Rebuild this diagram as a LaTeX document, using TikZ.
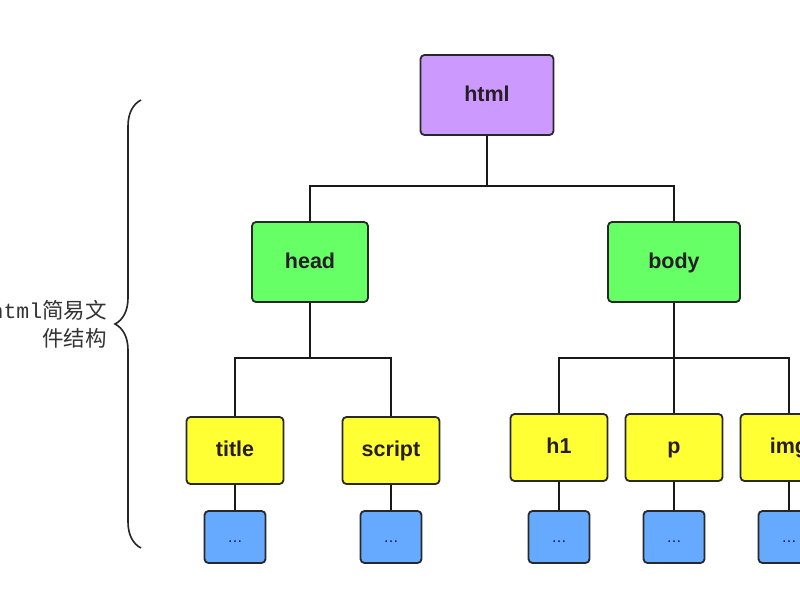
\documentclass[tikz,border=0pt]{standalone}
\usepackage{fontspec}
\setmainfont{Liberation Sans}
\newfontfamily\cjk{Noto Sans CJK SC}
\newfontfamily\monof{Liberation Mono}
\usetikzlibrary{decorations.pathreplacing}
\definecolor{cpurple}{RGB}{204,153,255}
\definecolor{cgreen}{RGB}{102,255,102}
\definecolor{cyellow}{RGB}{255,255,51}
\definecolor{cblue}{RGB}{102,170,255}
\definecolor{cborder}{RGB}{40,40,40}
\definecolor{ctext}{RGB}{40,30,40}
\begin{document}
\begin{tikzpicture}[x=1pt,y=-1pt,
  box/.style={draw=cborder,line width=1.8pt,rounded corners=4pt,inner sep=0pt,
    font=\fontsize{21.5}{24}\selectfont\bfseries,text=ctext,
    text height=15pt,text depth=3pt},
  rootbox/.style={box,fill=cpurple,minimum width=133pt,minimum height=80pt},
  midbox/.style={box,fill=cgreen,minimum height=80pt},
  leafbox/.style={box,fill=cyellow,minimum width=97pt,minimum height=67pt},
  dotbox/.style={box,fill=cblue,minimum width=61pt,minimum height=52pt,
    font=\fontsize{15}{16}\selectfont,text=black!60!blue,text height=10pt,text depth=0pt},
  link/.style={line width=2pt,draw=black!90}]
\useasboundingbox (0,0) rectangle (800,600);
\fill[white] (0,0) rectangle (800,600);
\clip (0,0) rectangle (800,600);

\node[rootbox] (html) at (487,95) {html};
\node[midbox,minimum width=116pt] (head) at (310,262) {head};
\node[midbox,minimum width=132pt] (body) at (674,262) {body};
\node[leafbox] (title) at (235,450.5) {title};
\node[leafbox] (script) at (391,450.5) {script};
\node[leafbox] (h1) at (559,447.5) {h1};
\node[leafbox] (p) at (674,447.5) {p};
\node[leafbox] (img) at (789,447.5) {img};

\node[dotbox] (d1) at (235,537) {\ldots};
\node[dotbox] (d2) at (391,537) {\ldots};
\node[dotbox] (d3) at (559,537) {\ldots};
\node[dotbox] (d4) at (674,537) {\ldots};
\node[dotbox] (d5) at (789,537) {\ldots};

\coordinate (j1) at (487,186);
\coordinate (j2) at (310,358);
\coordinate (j3) at (674,358);

\draw[link] (html.south) -- (j1);
\draw[link] (head.north) |- (j1) -| (body.north);
\draw[link] (head.south) -- (j2);
\draw[link] (title.north) |- (j2) -| (script.north);
\draw[link] (body.south) -- (j3);
\draw[link] (h1.north) |- (j3) -| (img.north);
\draw[link] (j3) -- (p.north);
\draw[link] (title.south) -- (d1.north);
\draw[link] (script.south) -- (d2.north);
\draw[link] (h1.south) -- (d3.north);
\draw[link] (p.south) -- (d4.north);
\draw[link] (img.south) -- (d5.north);

\coordinate (bb) at (141,548);
\coordinate (bt) at (141,100);
\draw[line width=1.6pt,black!85,decorate,
  decoration={brace,amplitude=26pt}] (bb) -- (bt);

\node[anchor=east,align=right,inner sep=0pt,text=black!80,
  font=\fontsize{21.5}{28}\selectfont] (lbl) at (107,324)
  {{\monof html}{\cjk 简易文}\\{\cjk 件结构}};
\end{tikzpicture}
\end{document}
